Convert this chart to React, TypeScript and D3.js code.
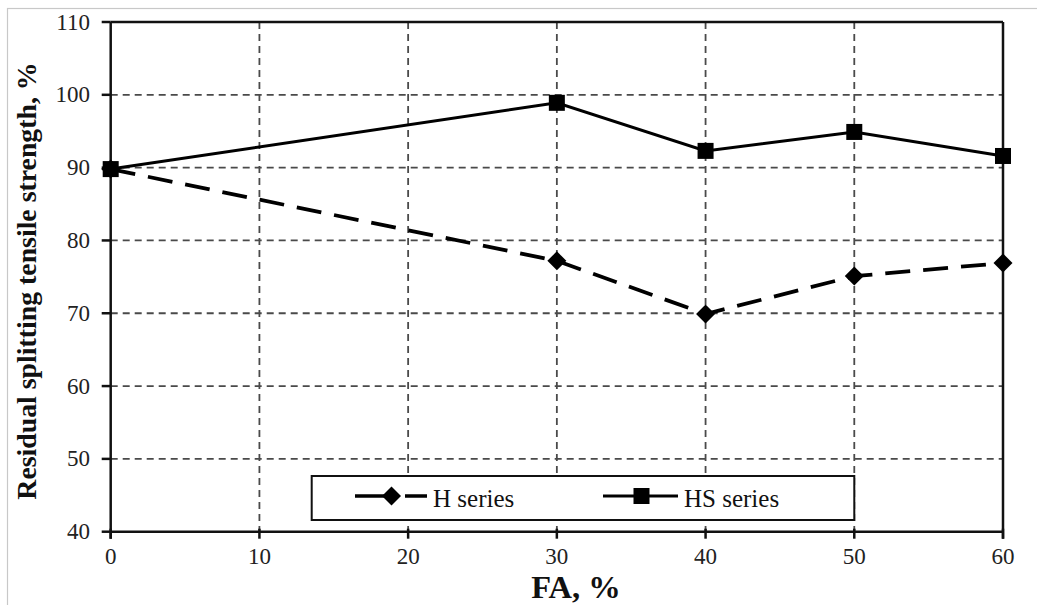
import React from "react";
import * as d3 from "d3";

const fa = [0, 30, 40, 50, 60];
const hSeries = [89.8, 77.2, 69.9, 75.1, 76.9];
const hsSeries = [89.8, 98.9, 92.3, 94.9, 91.6];
const xTicks = [0, 10, 20, 30, 40, 50, 60];
const yTicks = [40, 50, 60, 70, 80, 90, 100, 110];
const seriesNames = ["H series", "HS series"];

const W = 1037;
const H = 605;
const serif = "'Liberation Serif', 'Times New Roman', serif";

export default function App() {
  const x = d3.scaleLinear().domain([0, 60]).range([110.7, 1003]);
  const y = d3.scaleLinear().domain([40, 110]).range([531.7, 22]);
  const left = x(0), right = x(60), top = y(110), bottom = y(40);

  const line = d3
    .line<[number, number]>()
    .x((d) => x(d[0]))
    .y((d) => y(d[1]));
  const hPts: [number, number][] = fa.map((f, i) => [f, hSeries[i]]);
  const hsPts: [number, number][] = fa.map((f, i) => [f, hsSeries[i]]);

  const sq = 16;
  const dm = 9.5;

  const lgX0 = 311.7, lgX1 = x(50), lgY0 = 476, lgY1 = 520;
  const lgMid = 496;

  return (
    <svg
      width={W}
      height={H}
      style={{ position: "absolute", left: 0, top: 0, background: "#fff" }}
    >
      <rect x={7.5} y={8.5} width={1100} height={700} fill="none" stroke="#c8c8c8" strokeWidth={1.2} />

      <g stroke="#4a4a4a" strokeWidth={1.8} strokeDasharray="7 5" fill="none">
        {yTicks.filter((t) => t !== 40 && t !== 110).map((t) => (
          <line key={"gy" + t} x1={left} x2={right} y1={y(t)} y2={y(t)} />
        ))}
        {xTicks.filter((t) => t !== 0 && t !== 60).map((t) => (
          <line key={"gx" + t} x1={x(t)} x2={x(t)} y1={top} y2={bottom} />
        ))}
      </g>

      <g stroke="#111" strokeWidth={2.5} fill="none">
        <line x1={left} x2={right} y1={top} y2={top} />
        <line x1={left} x2={right} y1={bottom} y2={bottom} />
        <line x1={left} x2={left} y1={top} y2={bottom + 7} />
        <line x1={right} x2={right} y1={top} y2={bottom + 7} />
        {yTicks.map((t) => (
          <line key={"ty" + t} x1={left - 9} x2={left} y1={y(t)} y2={y(t)} />
        ))}
        {xTicks.map((t) => (
          <line key={"tx" + t} x1={x(t)} x2={x(t)} y1={bottom - 3} y2={bottom + 7} />
        ))}
      </g>

      <g fontFamily={serif} fontSize={23} fill="#222">
        {yTicks.map((t) => (
          <text key={"ly" + t} x={90} y={y(t)} dy="0.33em" textAnchor="end">
            {t}
          </text>
        ))}
        {xTicks.map((t) => (
          <text key={"lx" + t} x={x(t)} y={564} textAnchor="middle">
            {t}
          </text>
        ))}
      </g>

      <text
        x={576}
        y={598}
        textAnchor="middle"
        fontFamily={serif}
        fontWeight="bold"
        fontSize={32.5}
        fill="#111"
      >
        FA, %
      </text>
      <text
        transform={`translate(36,281) rotate(-90)`}
        textAnchor="middle"
        fontFamily={serif}
        fontWeight="bold"
        fontSize={27.8}
        fill="#111"
      >
        Residual splitting tensile strength, %
      </text>

      <path d={line(hPts) || ""} fill="none" stroke="#000" strokeWidth={3.8} strokeDasharray="25 13" />
      <path d={line(hsPts) || ""} fill="none" stroke="#000" strokeWidth={3} />
      {hPts.map((p, i) => (
        <path
          key={"dm" + i}
          d={`M${x(p[0])},${y(p[1]) - dm}L${x(p[0]) + dm},${y(p[1])}L${x(p[0])},${y(p[1]) + dm}L${x(p[0]) - dm},${y(p[1])}Z`}
          fill="#000"
        />
      ))}
      {hsPts.map((p, i) => (
        <rect key={"sq" + i} x={x(p[0]) - sq / 2} y={y(p[1]) - sq / 2} width={sq} height={sq} fill="#000" />
      ))}

      <rect x={lgX0} y={lgY0} width={lgX1 - lgX0} height={lgY1 - lgY0} fill="#fff" stroke="#111" strokeWidth={2} />
      <line x1={355} x2={427} y1={lgMid} y2={lgMid} stroke="#000" strokeWidth={3.5} strokeDasharray="43 7 22" />
      <path d={`M391.5,${lgMid - dm}L${391.5 + dm},${lgMid}L391.5,${lgMid + dm}L${391.5 - dm},${lgMid}Z`} fill="#000" />
      <text x={433} y={507} fontFamily={serif} fontSize={25} fill="#111">
        {seriesNames[0]}
      </text>
      <line x1={603} x2={678} y1={lgMid} y2={lgMid} stroke="#000" strokeWidth={3} />
      <rect x={641.5 - sq / 2} y={lgMid - sq / 2} width={sq} height={sq} fill="#000" />
      <text x={684} y={507} fontFamily={serif} fontSize={25} fill="#111">
        {seriesNames[1]}
      </text>
    </svg>
  );
}
